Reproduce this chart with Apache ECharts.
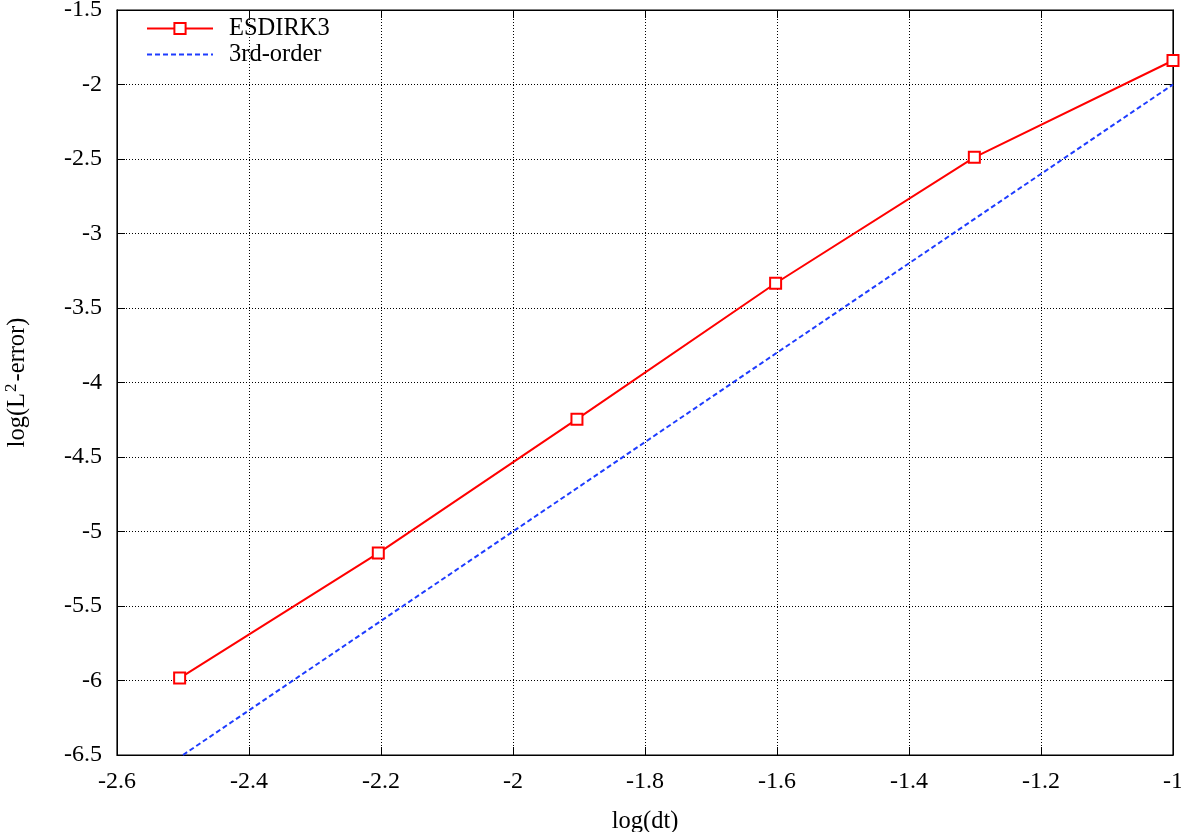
<!DOCTYPE html>
<html><head><meta charset="utf-8">
<script src="https://cdn.jsdelivr.net/npm/echarts@6/dist/echarts.min.js"></script>
<style>html,body{margin:0;padding:0;background:#fff}#c{width:1181px;height:832px}</style>
</head><body><div id="c"></div>
<script>
const logDt = [-2.5051, -2.2041, -1.9031, -1.6021, -1.3010, -1.0];
const esdirk3 = [-5.984, -5.145, -4.246, -3.334, -2.489, -1.839];
const refX = [-2.5, -1.0];
const refY = [-6.5, -2.0];
const seriesNames = ['ESDIRK3', '3rd-order'];

const font = 'Liberation Serif';
const chart = echarts.init(document.getElementById('c'));
const gridLine = {show: true, lineStyle: {color: '#000', type: [1, 2], width: 1}};
chart.setOption({
  animation: false,
  textStyle: {fontFamily: font},
  grid: {left: 117, right: 8, top: 10, bottom: 77, show: true, borderColor: '#000', borderWidth: 1.2,
    containLabel: false, outerBoundsMode: 'none'},
  legend: {
    orient: 'vertical', left: 141, top: 11, itemWidth: 66, itemHeight: 14, itemGap: 1,
    textStyle: {fontFamily: font, fontSize: 24.5, color: '#000', padding: [0, 0, 0, 11]},
    data: [{name: seriesNames[0]}, {name: seriesNames[1], itemStyle: {opacity: 0}}]
  },
  xAxis: [{
    type: 'value', min: -2.6, max: -1, interval: 0.2,
    name: 'log(dt)', nameLocation: 'middle', nameGap: 54,
    nameTextStyle: {fontFamily: font, fontSize: 24.5, color: '#000'},
    axisLine: {show: true, lineStyle: {color: '#000'}},
    axisTick: {show: true, inside: true, length: 8, lineStyle: {color: '#000'}},
    axisLabel: {fontFamily: font, fontSize: 24, color: '#000', margin: 15,
      formatter: v => String(Math.round(v * 10) / 10)},
    splitLine: gridLine
  }, {
    type: 'value', position: 'top', min: -2.6, max: -1, interval: 0.2,
    axisLine: {show: true, lineStyle: {color: '#000'}},
    axisTick: {show: true, inside: true, length: 8, lineStyle: {color: '#000'}},
    axisLabel: {show: false}, splitLine: {show: false}
  }],
  yAxis: [{
    type: 'value', min: -6.5, max: -1.5, interval: 0.5,
    name: '{a|log(L}{s|2}{a|-error)}', nameLocation: 'middle', nameGap: 84, nameRotate: 90,
    nameTextStyle: {rich: {
      a: {fontFamily: font, fontSize: 24.5, color: '#000'},
      s: {fontFamily: font, fontSize: 17, color: '#000', padding: [0, 2, 13, 1]}
    }},
    axisLine: {show: true, lineStyle: {color: '#000'}},
    axisTick: {show: true, inside: true, length: 8, lineStyle: {color: '#000'}},
    axisLabel: {fontFamily: font, fontSize: 24, color: '#000', margin: 15,
      formatter: v => String(Math.round(v * 10) / 10)},
    splitLine: gridLine
  }, {
    type: 'value', position: 'right', min: -6.5, max: -1.5, interval: 0.5,
    axisLine: {show: true, lineStyle: {color: '#000'}},
    axisTick: {show: true, inside: true, length: 8, lineStyle: {color: '#000'}},
    axisLabel: {show: false}, splitLine: {show: false}
  }],
  series: [{
    name: seriesNames[0], type: 'line',
    data: logDt.map((x, i) => [x, esdirk3[i]]),
    symbol: 'rect', symbolSize: 11, showSymbol: true,
    lineStyle: {color: '#ff0000', width: 2},
    itemStyle: {color: '#fff', borderColor: '#ff0000', borderWidth: 2},
    z: 3
  }, {
    name: seriesNames[1], type: 'line',
    data: refX.map((x, i) => [x, refY[i]]),
    symbol: 'none',
    lineStyle: {color: '#1e3cff', width: 2, type: [5, 3]},
    itemStyle: {color: '#1e3cff'},
    z: 2
  }]
});
</script></body></html>
